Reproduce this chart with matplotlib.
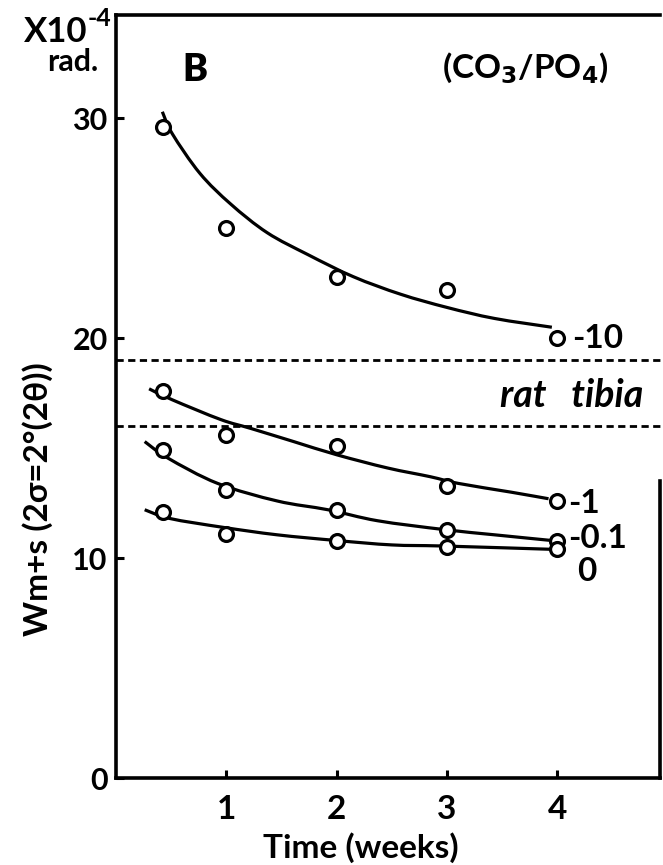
import numpy as np
import matplotlib
matplotlib.use("Agg")
import matplotlib.pyplot as plt
from matplotlib.path import Path
from matplotlib.patches import PathPatch

plt.rcParams['font.family'] = ['Lato', 'DejaVu Sans']
plt.rcParams['font.weight'] = 'bold'

# Sampling times (weeks)
weeks = [0.43, 1.0, 2.0, 3.0, 4.0]

# Measured line breadth W(m+s), x10^-4 rad, for each CO3/PO4 ratio
w_ratio_10 = [29.6, 25.0, 22.8, 22.2, 20.0]
w_ratio_1 = [17.6, 15.6, 15.1, 13.3, 12.6]
w_ratio_01 = [14.9, 13.1, 12.2, 11.3, 10.8]
w_ratio_0 = [12.1, 11.1, 10.8, 10.5, 10.4]

# Hand-fitted trend curves (knots along each drawn curve)
fit10_x = [0.42, 0.51, 0.76, 1.04, 1.37, 1.74, 2.15, 2.58, 3.0, 3.43, 3.95]
fit10_y = [30.3, 29.3, 27.5, 26.1, 24.8, 23.8, 22.8, 22.0, 21.4, 20.9, 20.5]
fit1_x = [0.30, 0.51, 0.95, 1.22, 1.61, 2.0, 2.46, 2.85, 3.1, 3.58, 3.92]
fit1_y = [17.7, 17.2, 16.3, 15.9, 15.3, 14.7, 14.1, 13.7, 13.4, 13.0, 12.7]
fit01_x = [0.26, 0.47, 0.92, 1.46, 1.92, 2.37, 2.97, 3.43, 3.95]
fit01_y = [15.3, 14.55, 13.4, 12.6, 12.2, 11.7, 11.3, 11.06, 10.8]
fit0_x = [0.26, 0.49, 0.97, 1.46, 2.0, 2.5, 2.97, 3.95]
fit0_y = [12.2, 11.8, 11.4, 11.06, 10.8, 10.6, 10.55, 10.4]

# Rat tibia reference band
tibia_band = [19.0, 16.0]

curve_labels = ["-10", "-1", "-0.1", "0"]
x_ticks = [1, 2, 3, 4]
y_ticks = [0, 10, 20, 30]


def smooth_path(xs, ys):
    """Catmull-Rom spline through the knots, expressed as cubic Bezier segments."""
    pts = np.column_stack([xs, ys]).astype(float)
    verts = [pts[0]]
    codes = [Path.MOVETO]
    n = len(pts)
    for i in range(n - 1):
        p0 = pts[i - 1] if i > 0 else pts[i]
        p1 = pts[i]
        p2 = pts[i + 1]
        p3 = pts[i + 2] if i + 2 < n else pts[i + 1]
        c1 = p1 + (p2 - p0) / 6.0
        c2 = p2 - (p3 - p1) / 6.0
        verts += [c1, c2, p2]
        codes += [Path.CURVE4] * 3
    return Path(verts, codes)


W, H = 663, 865
fig = plt.figure(figsize=(W / 100, H / 100), dpi=100)
ax = fig.add_axes([116 / W, 1 - 778 / H, (660 - 116) / W, (778 - 15) / H])
ax.set_xlim(0, 4.93)
ax.set_ylim(0, 34.7)

lw_spine = 2.6
for side in ['left', 'bottom', 'top', 'right']:
    ax.spines[side].set_linewidth(lw_spine)
ax.spines['right'].set_bounds(0, 13.5)

ax.set_xticks(x_ticks)
ax.set_yticks(y_ticks)
ax.tick_params(axis='both', direction='in', length=6, width=2.2, color='black')
ax.tick_params(axis='x', labelsize=24, pad=12)
ax.tick_params(axis='y', labelsize=22, pad=6)

# Reference band
for yv in tibia_band:
    ax.axhline(yv, color='black', lw=2.0, ls=(0, (2.6, 1.6)), clip_on=False,
               xmax=1.01)

fits = [(fit10_x, fit10_y), (fit1_x, fit1_y), (fit01_x, fit01_y), (fit0_x, fit0_y)]
series = [w_ratio_10, w_ratio_1, w_ratio_01, w_ratio_0]
for (fx, fy), ys in zip(fits, series):
    ax.add_patch(PathPatch(smooth_path(fx, fy), facecolor='none',
                           edgecolor='black', lw=2.3, zorder=2))
    ax.plot(weeks, ys, ls='none', marker='o', ms=10, mfc='white',
            mec='black', mew=2.3, zorder=3)

# Ratio labels at the curve ends
label_pos = [(4.13, 20.0), (4.1, 12.5), (4.1, 10.9), (4.18, 9.4)]
for txt, (lx, ly) in zip(curve_labels, label_pos):
    ax.text(lx, ly, txt, fontsize=24, ha='left', va='center')

ax.text(4.78, 17.4, "rat   tibia", fontsize=27, ha='right', va='center',
        style='italic')

# Panel annotations
fig.text(195 / W, 1 - 70 / H, "B", fontsize=27, fontweight='heavy',
         ha='center', va='center')
fig.text(525 / W, 1 - 68 / H, "(CO$_3$/PO$_4$)", fontsize=24,
         ha='center', va='center')
fig.text(24 / W, 1 - 32 / H, "X10", fontsize=25, ha='left', va='center')
fig.text(88 / W, 1 - 18 / H, "-4", fontsize=18, ha='left', va='center')
fig.text(73 / W, 1 - 62 / H, "rad.", fontsize=22, ha='center', va='center')

fig.text(38 / W, 1 - 499 / H, "Wm+s (2σ=2°(2θ))", fontsize=24,
         rotation=90, ha='center', va='center')
fig.text(361 / W, 1 - 848 / H, "Time (weeks)", fontsize=24,
         ha='center', va='center')

fig.savefig("out.png", dpi=100)
